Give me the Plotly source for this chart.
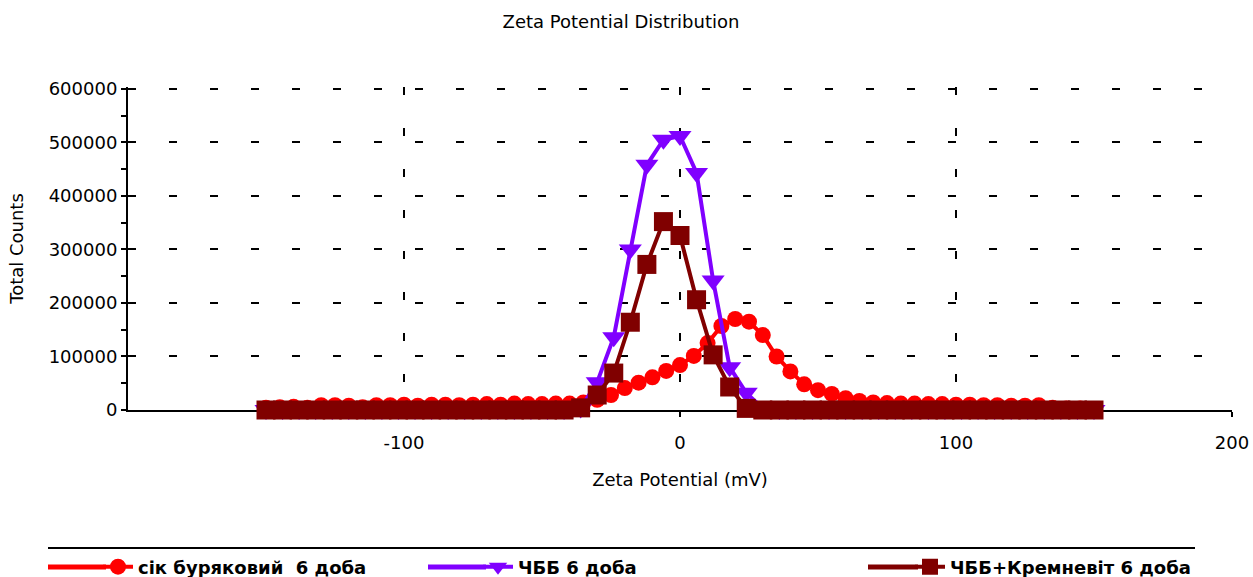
import plotly.graph_objects as go

# ---- data ----
chbb_x = [-150, -144, -138, -132, -126, -120, -114, -108, -102, -96, -90, -84, -78, -72, -66,
          -60, -54, -48, -42, -36, -30, -24, -18, -12, -6, 0, 6, 12, 18, 24, 30, 36, 42, 48,
          54, 60, 66, 72, 78, 84, 90, 96, 102, 108, 114, 120, 126, 132, 138, 144, 150]

chbb_y = [0, 0, 0, 0, 0, 0, 0, 0, 0, 0, 0, 0, 0, 0, 0, 0, 0, 0, 0,
          3000, 52000, 136000, 300000, 458000, 505000, 512000, 443000, 242000, 80000, 32000, 3000,
          0, 0, 0, 0, 0, 0, 0, 0, 0, 0, 0, 0, 0, 0, 0, 0, 0, 0, 0, 0]

chbb_krem_y = [0, 0, 0, 0, 0, 0, 0, 0, 0, 0, 0, 0, 0, 0, 0, 0, 0, 0, 0,
               4000, 28000, 69000, 164000, 272000, 352000, 326000, 206000, 103000, 43000, 3000,
               0, 0, 0, 0, 0, 0, 0, 0, 0, 0, 0, 0, 0, 0, 0, 0, 0, 0, 0, 0, 0]

beet_x = [-150, -145, -140, -135, -130, -125, -120, -115, -110, -105, -100, -95, -90, -85, -80,
          -75, -70, -65, -60, -55, -50, -45, -40, -35, -30, -25, -20, -15, -10, -5, 0, 5, 10,
          15, 20, 25, 30, 35, 40, 45, 50, 55, 60, 65, 70, 75, 80, 85, 90, 95, 100, 105, 110,
          115, 120, 125, 130, 135, 140, 145, 150]

beet_y = [4000, 5000, 6000, 4000, 9000, 9000, 8000, 5000, 9000, 9000, 10000, 8000, 10000,
          10000, 9000, 10000, 11000, 10000, 12000, 11000, 11000, 12000, 12000, 14000, 19000,
          28000, 41000, 51000, 61000, 73000, 84000, 101000, 125000, 157000, 170000, 165000,
          140000, 100000, 72000, 48000, 37000, 30000, 22000, 17000, 14000, 13000, 12000, 12000,
          11000, 11000, 10000, 10000, 9000, 9000, 8000, 8000, 9000, 4000, 3000, 3000, 2000]

names = ["сік буряковий  6 доба", "ЧББ 6 доба", "ЧББ+Кремневіт 6 доба"]
x_ticks = [-100, 0, 100, 200]
x_tick_text = ["-100", "0", "100", "200"]

RED = "#FF0000"
PURPLE = "#8000FF"
BROWN = "#800000"

# ---- geometry (pixels) ----
W, H = 1253, 577
ML, MR, MT, MB = 128, 21, 87, 167
PW, PH = W - ML - MR, H - MT - MB


def px_x(p):
    return (p - ML) / PW


def px_y(p):
    return (H - MB - p) / PH


fig = go.Figure()
fig.add_trace(go.Scatter(
    x=beet_x, y=beet_y, name=names[0], mode="lines+markers",
    line=dict(color=RED, width=4),
    marker=dict(symbol="circle", size=16, color=RED),
    cliponaxis=False, legend="legend2"))
fig.add_trace(go.Scatter(
    x=chbb_x, y=chbb_y, name=names[1], mode="lines+markers",
    line=dict(color=PURPLE, width=4),
    marker=dict(symbol="triangle-down", size=20, color=PURPLE),
    cliponaxis=False, legend="legend3"))
fig.add_trace(go.Scatter(
    x=chbb_x, y=chbb_krem_y, name=names[2], mode="lines+markers",
    line=dict(color=BROWN, width=4),
    marker=dict(symbol="square", size=19, color=BROWN),
    cliponaxis=False, legend="legend4"))

FAM = "DejaVu Sans, Liberation Sans, Arial, sans-serif"
axis_font = dict(family=FAM, size=18, color="black")
grid_kw = dict(showgrid=True, gridcolor="black", gridwidth=2, griddash="8px,33px")

legend_font = dict(family=FAM, size=18, color="black", weight="bold")
leg_common = dict(orientation="h", xref="container", yref="container", xanchor="left",
                  yanchor="middle", y=10 / H, font=legend_font, bgcolor="rgba(0,0,0,0)",
                  borderwidth=0)

shapes = [
    dict(type="line", xref="paper", yref="paper", x0=px_x(48), x1=px_x(1195),
         y0=px_y(548), y1=px_y(548), line=dict(color="black", width=2)),
    dict(type="line", xref="paper", yref="paper", x0=px_x(48), x1=px_x(106),
         y0=px_y(567), y1=px_y(567), line=dict(color=RED, width=5)),
    dict(type="line", xref="paper", yref="paper", x0=px_x(428), x1=px_x(486),
         y0=px_y(567), y1=px_y(567), line=dict(color=PURPLE, width=5)),
    dict(type="line", xref="paper", yref="paper", x0=px_x(868), x1=px_x(918),
         y0=px_y(567), y1=px_y(567), line=dict(color=BROWN, width=5)),
]

Y_TOP = 603500

fig.update_layout(
    width=W, height=H,
    margin=dict(l=ML, r=MR, t=MT, b=MB, autoexpand=False),
    paper_bgcolor="white", plot_bgcolor="white",
    showlegend=True,
    title=dict(text="Zeta Potential Distribution", x=621 / W, xref="container", xanchor="center",
               y=1 - 22 / H, yref="container", yanchor="middle",
               font=dict(family=FAM, size=18, color="black")),
    xaxis=dict(range=[-200, 200], tickmode="array", tickvals=x_ticks, ticktext=x_tick_text,
               ticks="outside", ticklen=5, tickwidth=2, tickcolor="black",
               showline=True, linecolor="black", linewidth=2, zeroline=False,
               layer="below traces", tickfont=axis_font, ticklabelstandoff=10,
               title=dict(text="Zeta Potential (mV)", font=axis_font, standoff=22),
               **grid_kw),
    yaxis=dict(range=[0, Y_TOP], tickmode="linear", tick0=0, dtick=100000, tickformat="d",
               ticks="outside", ticklen=5, tickwidth=2, tickcolor="black",
               minor=dict(ticks="outside", dtick=50000, ticklen=5, tickwidth=2, tickcolor="black",
                          showgrid=False),
               showline=True, linecolor="black", linewidth=2, zeroline=False,
               layer="below traces", tickfont=axis_font,
               title=dict(text="Total Counts", font=axis_font, standoff=20),
               **grid_kw),
    yaxis2=dict(overlaying="y", side="left", anchor="x", range=[0, Y_TOP], tickmode="linear",
                tick0=0, dtick=100000, ticks="inside", ticklen=5, tickwidth=2, tickcolor="black",
                minor=dict(ticks="inside", dtick=50000, ticklen=5, tickwidth=2, tickcolor="black"),
                showticklabels=False, showgrid=False, showline=False, zeroline=False),
    xaxis2=dict(overlaying="x", side="bottom", anchor="y", range=[-200, 200], tickmode="array",
                tickvals=x_ticks, ticks="inside", ticklen=5, tickwidth=2, tickcolor="black",
                showticklabels=False, showgrid=False, showline=False, zeroline=False),
    legend2=dict(x=98 / W, **leg_common),
    legend3=dict(x=478 / W, **leg_common),
    legend4=dict(x=910 / W, **leg_common),
    shapes=shapes,
)

fig.write_html("out.html",
               config={"displayModeBar": False},
               post_script="document.body.style.margin='0px';document.body.style.overflow='hidden';")
